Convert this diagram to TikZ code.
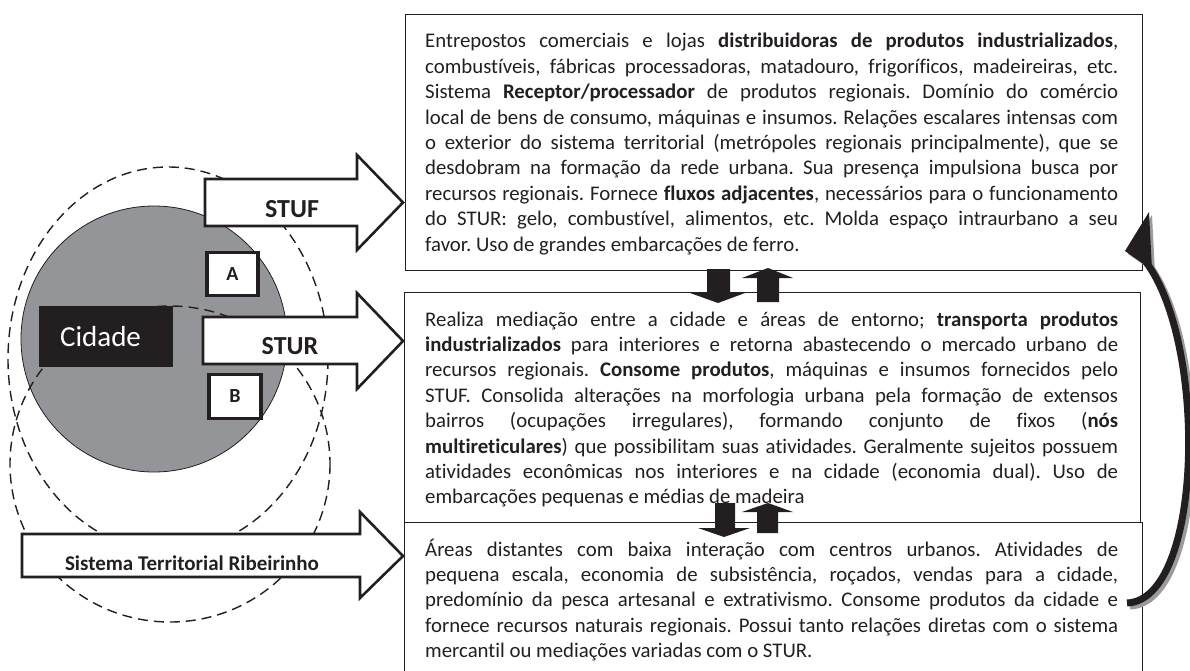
\documentclass[tikz,border=0pt]{standalone}
\usepackage{fontspec}
\setmainfont{Carlito}[Ligatures=NoCommon]
\usetikzlibrary{arrows.meta}
\definecolor{cgrey}{HTML}{939598}
\definecolor{ink}{HTML}{231F20}
\definecolor{shadowgrey}{HTML}{9B9B9B}
\frenchspacing
\newcommand\jl[1]{\hbox to \linewidth{\spaceskip=0.226em plus 1fil\relax\xspaceskip=0.226em plus 1fil\relax #1}}
\newcommand\lastline[1]{\hbox{\spaceskip=0.226em\relax\xspaceskip=0.226em\relax #1}}
\begin{document}
\begin{tikzpicture}[x=1pt,y=-1pt,
  frame/.style={draw=ink, line width=1.4pt, inner sep=0pt, anchor=north west},
  body/.style={anchor=base west, inner sep=0pt, text width=693pt, text=ink, font=\fontsize{20.8}{25.4}\selectfont},
  blockarrow/.style={draw=ink, fill=white, line width=2.6pt, miter limit=10},
  dashring/.style={draw=ink, line width=1.4pt, dash pattern=on 10pt off 6pt},
  tag/.style={draw=ink, fill=white, line width=3.6pt, inner sep=0pt, font=\bfseries\fontsize{20}{22}\selectfont, text=ink},
  arrlabel/.style={font=\bfseries\fontsize{26}{28}\selectfont, text=ink, anchor=base, inner sep=0pt},
  flowarrow/.style={fill=ink},
]
\useasboundingbox (0,0) rectangle (1190,671);

% ---- left side: city and systems
\fill[cgrey] (154,339) circle (133);
\draw[ink, line width=0.8pt] (154,339) circle (133);
\draw[dashring] (168,359) ellipse [x radius=160, y radius=192];
\draw[dashring] (170,464) ellipse [x radius=160, y radius=158];

\node[fill=ink, minimum width=134pt, minimum height=61pt, inner sep=0pt, text=white,
      font=\fontsize{29}{30}\selectfont] (cidade) at (106,336.5) {\hspace*{-11pt}Cidade};

\draw[blockarrow] (205,179) -- (357,179) -- (357,155) -- (403,202.5) -- (357,250) -- (357,226) -- (205,226) -- cycle;
\node[arrlabel] (stuf) at (292,217) {STUF};
\draw[blockarrow] (203,317) -- (357,317) -- (357,293) -- (403,341) -- (357,389) -- (357,364) -- (203,364) -- cycle;
\node[arrlabel] (stur) at (290,354) {STUR};
\draw[blockarrow] (22,534) -- (360,534) -- (360,512) -- (403,556) -- (360,598) -- (360,577) -- (22,577) -- cycle;
\node[arrlabel, font=\bfseries\fontsize{21}{23}\selectfont] (str) at (192,570) {Sistema Territorial Ribeirinho};

\node[tag, minimum width=51pt, minimum height=43pt] (A) at (232.5,274) {A};
\node[tag, minimum width=52pt, minimum height=44pt] (B) at (235,396.5) {B};

% ---- right side: text boxes
\node[frame, minimum width=737pt, minimum height=256pt] (box1) at (405,14) {};
\node[frame, minimum width=736pt, minimum height=230pt] (box2) at (404,292) {};
\node[frame, minimum width=738pt, minimum height=200pt] (box3) at (404,522) {};

\node[body] (t1) at (425,48) {%
\jl{Entrepostos comerciais e lojas \textbf{distribuidoras de produtos industrializados},}
\jl{combustíveis, fábricas processadoras, matadouro, frigoríficos, madeireiras, etc.}
\jl{Sistema \textbf{Receptor/processador} de produtos regionais. Domínio do comércio}
\jl{local de bens de consumo, máquinas e insumos. Relações escalares intensas com}
\jl{o exterior do sistema territorial (metrópoles regionais principalmente), que se}
\jl{desdobram na formação da rede urbana. Sua presença impulsiona busca por}
\jl{recursos regionais. Fornece \textbf{fluxos adjacentes}, necessários para o funcionamento}
\jl{do STUR: gelo, combustível, alimentos, etc. Molda espaço intraurbano a seu}
\lastline{favor. Uso de grandes embarcações de ferro.}};

\node[body] (t2) at (425,326) {%
\jl{Realiza mediação entre a cidade e áreas de entorno; \textbf{transporta produtos}}
\jl{\textbf{industrializados} para interiores e retorna abastecendo o mercado urbano de}
\jl{recursos regionais. \textbf{Consome produtos}, máquinas e insumos fornecidos pelo}
\jl{STUF. Consolida alterações na morfologia urbana pela formação de extensos}
\jl{bairros (ocupações irregulares), formando conjunto de fixos (\textbf{nós}}
\jl{\textbf{multireticulares}) que possibilitam suas atividades. Geralmente sujeitos possuem}
\jl{atividades econômicas nos interiores e na cidade (economia dual). Uso de}
\lastline{embarcações pequenas e médias de madeira}};

\node[body] (t3) at (425,556) {%
\jl{Áreas distantes com baixa interação com centros urbanos. Atividades de}
\jl{pequena escala, economia de subsistência, roçados, vendas para a cidade,}
\jl{predomínio da pesca artesanal e extrativismo. Consome produtos da cidade e}
\jl{fornece recursos naturais regionais. Possui tanto relações diretas com o sistema}
\lastline{mercantil ou mediações variadas com o STUR.}};

% ---- exchange arrows between boxes
\fill[flowarrow] (707,269) -- (730,269) -- (730,293) -- (745,293) -- (718,303) -- (690,293) -- (707,293) -- cycle;
\fill[flowarrow] (757,302) -- (779,302) -- (779,278) -- (793,278) -- (768,268) -- (742,278) -- (757,278) -- cycle;
\fill[flowarrow] (715,503) -- (735,503) -- (735,528) -- (750,528) -- (724,537) -- (698,528) -- (715,528) -- cycle;
\fill[flowarrow] (757,533) -- (778,533) -- (778,512) -- (793,512) -- (768,503) -- (742,512) -- (757,512) -- cycle;

% ---- curved return arrow
\coordinate (ctail) at (1127,603);
\coordinate (chead) at (1146,262);
\draw[shadowgrey, line width=7pt] ([shift={(3,3)}]ctail) .. controls (1206,603) and (1211,348) .. ([shift={(3,3)}]chead);
\fill[shadowgrey] (1128,254) -- (1152,215) -- (1155,273) -- cycle;
\draw[ink, line width=7pt] (ctail) .. controls (1203,600) and (1208,345) .. (chead);
\fill[ink] (1125,251) -- (1149,212) -- (1152,270) -- cycle;
\end{tikzpicture}
\end{document}
